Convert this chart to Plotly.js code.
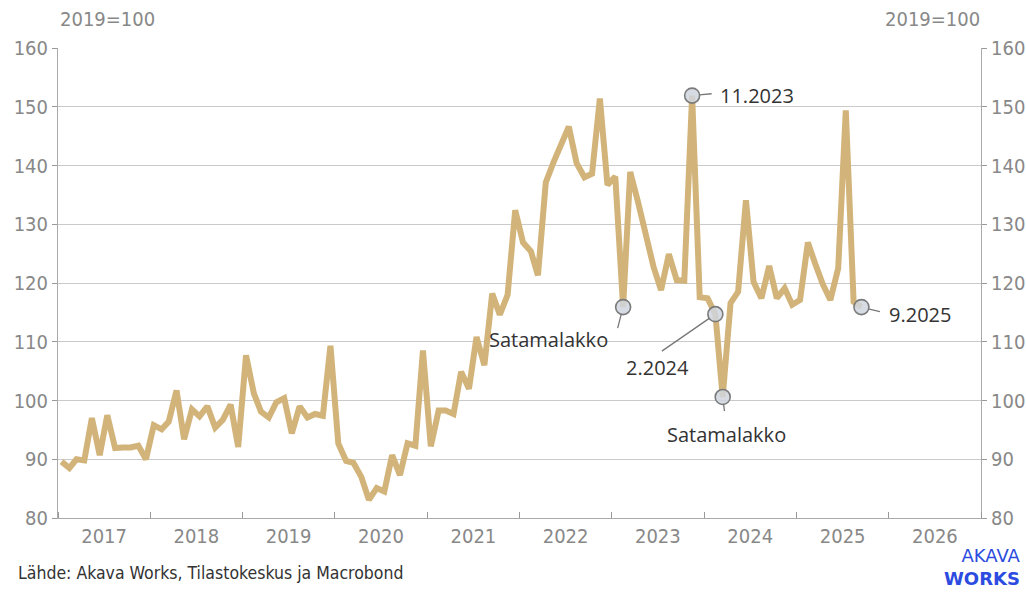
<!DOCTYPE html>
<html><head><meta charset="utf-8">
<script src="https://cdn.plot.ly/plotly-3.0.1.min.js"></script>
<style>html,body{margin:0;padding:0;background:#fff}#chart{width:1026px;height:592px}</style>
</head><body><div id="chart"></div>
<script>
// Index 2019=100, monthly values
const years = [2017, 2018, 2019, 2020, 2021, 2022, 2023, 2024, 2025];
const v2017 = [89.6, 88.5, 90.0, 89.8, 97.0, 90.7, 97.5, 91.9, 92.0, 92.0, 92.3, 90.0];
const v2018 = [95.8, 95.1, 96.4, 101.7, 93.4, 98.5, 97.3, 99.0, 95.4, 96.7, 99.3, 92.1];
const v2019 = [107.7, 101.2, 98.1, 97.1, 99.7, 100.4, 94.4, 99.0, 97.1, 97.7, 97.4, 109.3];
const v2020 = [92.7, 89.7, 89.4, 87.0, 83.1, 85.1, 84.5, 90.7, 87.3, 92.7, 92.3, 108.5];
const v2021 = [92.2, 98.3, 98.3, 97.7, 104.9, 102.0, 110.8, 106.0, 118.2, 114.6, 118.0, 132.4];
const v2022 = [126.9, 125.4, 121.3, 137.1, 140.5, 143.8, 146.6, 140.4, 138.0, 138.6, 151.4, 136.7];
const v2023 = [138.1, 115.9, 138.9, 133.8, 128.5, 122.8, 118.8, 124.9, 120.5, 120.4, 151.9, 117.6];
const v2024 = [117.4, 114.7, 100.6, 116.6, 118.5, 134.1, 120.2, 117.4, 122.9, 117.4, 119.1, 116.3];
const v2025 = [117.1, 126.9, 123.4, 119.8, 117.1, 122.5, 149.4, 116.8, 115.9];

const labelMonths = ['2023-02', '2023-11', '2024-02', '2024-03', '2025-09'];
const labelTexts  = ['Satamalakko', '11.2023', '2.2024', 'Satamalakko', '9.2025'];

const unitLabel = '2019=100';
const sourceText = 'Lähde: Akava Works, Tilastokeskus ja Macrobond';
const logoText = 'AKAVA<br><b>WORKS</b>';

const byYear = [v2017, v2018, v2019, v2020, v2021, v2022, v2023, v2024, v2025];
const dates = [], values = [];
years.forEach((y, i) => {
  byYear[i].forEach((v, m) => {
    dates.push(y + '-' + String(m + 1).padStart(2, '0') + '-15');
    values.push(v);
  });
});
const hlX = labelMonths.map(m => m + '-15');
const hlY = hlX.map(d => values[dates.indexOf(d)]);

// leader line offsets (px) and text offsets (px)
const leader = [[-6, 23], [21, -2], [-55, 38], [2, 16], [20, 5]];
const textPos = [
  {xshift: -13, yshift: -32, xanchor: 'right'},
  {xshift: 26, yshift: 0, xanchor: 'left'},
  {xshift: -58, yshift: -53, xanchor: 'center'},
  {xshift: 4, yshift: -38, xanchor: 'center'},
  {xshift: 26, yshift: -7, xanchor: 'left'}
];

const narrow = '"DejaVu Sans Condensed", "Liberation Sans Narrow", sans-serif';
const annFont = {family: '"Open Sans", "Noto Sans", sans-serif', size: 20, color: '#333'};

const annotations = [];
hlX.forEach((x, i) => {
  annotations.push({x: x, y: hlY[i], xref: 'x', yref: 'y', text: ' ', font: {size: 1},
    showarrow: true, arrowhead: 0, arrowwidth: 1.3, arrowcolor: '#777', standoff: 7,
    ax: leader[i][0], ay: leader[i][1]});
  annotations.push(Object.assign({x: x, y: hlY[i], xref: 'x', yref: 'y', text: labelTexts[i],
    showarrow: false, yanchor: 'middle', font: annFont}, textPos[i]));
});
annotations.push({xref: 'paper', yref: 'paper', x: 0, y: 1, xanchor: 'left', yanchor: 'middle', yshift: 29,
  text: unitLabel, showarrow: false, font: {family: narrow, size: 20, color: '#888'}});
annotations.push({xref: 'paper', yref: 'paper', x: 1.001, y: 1, xanchor: 'right', yanchor: 'middle', yshift: 29,
  text: unitLabel, showarrow: false, font: {family: narrow, size: 20, color: '#888'}});
annotations.push({xref: 'paper', yref: 'paper', x: -0.0455, y: -0.117, xanchor: 'left', yanchor: 'middle',
  text: sourceText, showarrow: false, font: {family: narrow, size: 17.5, color: '#333'}});
annotations.push({xref: 'paper', yref: 'paper', x: 1.0444, y: -0.104, xanchor: 'right', yanchor: 'middle',
  align: 'right', borderpad: 0,
  text: logoText, showarrow: false, font: {family: '"DejaVu Sans", sans-serif', size: 18, color: '#2c4be0'}});

const traces = [
  {x: dates, y: values, type: 'scatter', mode: 'lines', line: {color: '#D2B47A', width: 6},
   hoverinfo: 'x+y', showlegend: false},
  {x: hlX, y: hlY, type: 'scatter', mode: 'markers', showlegend: false,
   marker: {size: 15, color: 'rgba(208,213,222,0.85)', line: {color: '#7a7a7a', width: 1.6}}},
  {x: dates, y: values, yaxis: 'y2', type: 'scatter', mode: 'lines', line: {width: 0},
   hoverinfo: 'skip', showlegend: false, opacity: 0}
];

const tickFont = {family: narrow, size: 20, color: '#888'};
const layout = {
  width: 1026, height: 592,
  margin: {l: 58, r: 45, t: 48, b: 74},
  paper_bgcolor: '#fff', plot_bgcolor: '#fff',
  showlegend: false,
  xaxis: {type: 'date', range: ['2017-01-01', '2027-01-01'], dtick: 'M12', tick0: '2017-01-01',
    ticklabelmode: 'period', tickformat: '%Y', showgrid: false, zeroline: false,
    showline: true, linecolor: '#aaa', linewidth: 1, ticks: 'inside', ticklen: 6, tickcolor: '#999',
    tickfont: tickFont},
  yaxis: {range: [80, 160], dtick: 10, showgrid: true, gridcolor: '#cacaca', gridwidth: 1, zeroline: false,
    showline: true, linecolor: '#aaa', ticks: 'outside', ticklen: 5, tickcolor: '#999', tickfont: tickFont},
  yaxis2: {range: [80, 160], dtick: 10, overlaying: 'y', side: 'right', showgrid: false, zeroline: false,
    showline: true, linecolor: '#aaa', ticks: 'outside', ticklen: 5, tickcolor: '#999', tickfont: tickFont},
  annotations: annotations
};

Plotly.newPlot('chart', traces, layout, {displayModeBar: false, staticPlot: true});
</script>
</body></html>
